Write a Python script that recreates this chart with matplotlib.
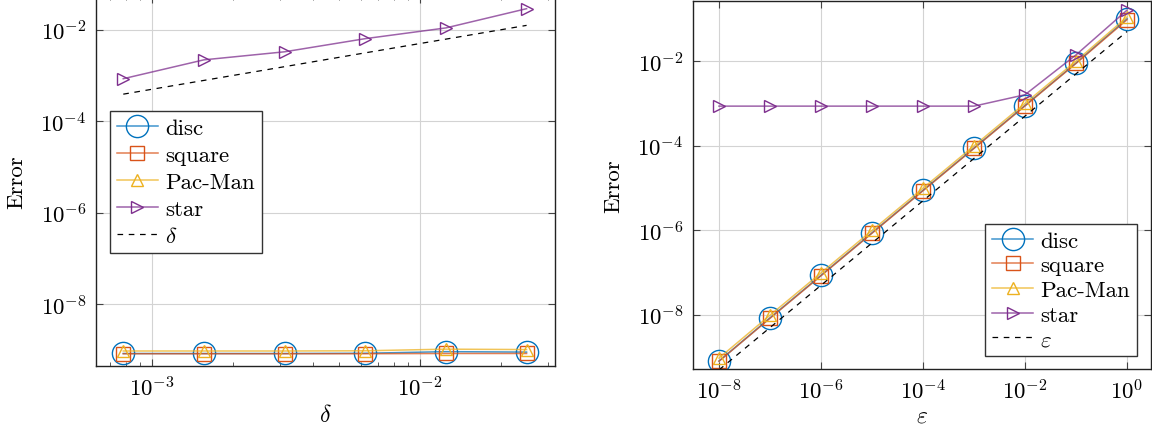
import numpy as np
import matplotlib
matplotlib.use('Agg')
import matplotlib.pyplot as plt
from matplotlib.ticker import FixedLocator, NullLocator, FuncFormatter, LogLocator

plt.rcParams['font.family'] = 'serif'
plt.rcParams['font.serif'] = ['cmr10']
plt.rcParams['mathtext.fontset'] = 'cm'
plt.rcParams['axes.formatter.use_mathtext'] = True

# left panel: error vs delta
delta = [1/1280, 1/640, 1/320, 1/160, 1/80, 1/40]
left_disc = [8.2e-10, 8.2e-10, 8.2e-10, 8.3e-10, 9.0e-10, 8.8e-10]
left_square = [8.1e-10, 8.1e-10, 8.1e-10, 8.1e-10, 8.2e-10, 8.2e-10]
left_pacman = [9.3e-10, 9.3e-10, 9.3e-10, 9.4e-10, 1.02e-9, 1.0e-9]
left_star = [8.5e-4, 2.2e-3, 3.3e-3, 6.4e-3, 1.1e-2, 2.9e-2]
left_ref = [3.9e-4, 7.8e-4, 1.56e-3, 3.13e-3, 6.25e-3, 1.25e-2]

# right panel: error vs epsilon
eps = [1e-8, 1e-7, 1e-6, 1e-5, 1e-4, 1e-3, 1e-2, 1e-1, 1e0]
right_disc = [8.1e-10, 8.5e-9, 8.6e-8, 8.7e-7, 8.8e-6, 8.8e-5, 8.9e-4, 9.0e-3, 1.0e-1]
right_square = [8.0e-10, 8.3e-9, 8.4e-8, 8.5e-7, 8.6e-6, 8.6e-5, 8.7e-4, 8.8e-3, 9.5e-2]
right_pacman = [9.5e-10, 9.8e-9, 9.8e-8, 9.9e-7, 9.9e-6, 9.9e-5, 1.0e-3, 1.0e-2, 1.1e-1]
right_star = [8.6e-4, 8.6e-4, 8.6e-4, 8.6e-4, 8.6e-4, 8.6e-4, 1.6e-3, 1.4e-2, 1.6e-1]
right_ref = [5e-10, 5e-9, 5e-8, 5e-7, 5e-6, 5e-5, 5e-4, 5e-3, 5e-2]

names = ['disc', 'square', 'Pac-Man', 'star']
colors = ['#0072BD', '#D95319', '#EDB120', '#7E2F8E']
markers = ['o', 's', '^', '>']
msizes = [16, 10, 9, 9]

fig = plt.figure(figsize=(11.52, 4.31), dpi=100)
ax1 = fig.add_axes([96/1152, 64/431, 459/1152, 370/431])
ax2 = fig.add_axes([693/1152, 61/431, 458/1152, 368/431])


def draw(ax, x, series, ref):
    handles = []
    for i, y in enumerate(series):
        l, = ax.plot(x, y, '-', color=colors[i], lw=1.1, alpha=0.75)
        m, = ax.plot(x, y, ls='none', marker=markers[i], ms=msizes[i],
                     mfc='none', mec=colors[i], mew=1.0)
        handles.append((l, m))
    r, = ax.plot(x, ref, color='k', lw=0.9, ls=(0, (4.5, 4.5)))
    handles.append(r)
    ax.set_xscale('log')
    ax.set_yscale('log')
    ax.grid(True, which='major', color='#d3d3d3', lw=0.8)
    ax.set_axisbelow(True)
    ax.tick_params(which='both', direction='in', top=True, right=True,
                   labelsize=16.5, color='#444444', pad=7)
    ax.tick_params(which='major', length=5)
    ax.tick_params(which='minor', length=3)
    ax.set_ylabel('Error', fontsize=16.5, labelpad=10)
    fmt = FuncFormatter(lambda v, p: r'$10^{%d}$' % round(np.log10(v)))
    ax.xaxis.set_major_formatter(fmt)
    ax.yaxis.set_major_formatter(fmt)
    ax.yaxis.set_major_locator(FixedLocator([1e-8, 1e-6, 1e-4, 1e-2]))
    ax.yaxis.set_minor_locator(NullLocator())
    for s in ax.spines.values():
        s.set_color('#222222')
        s.set_linewidth(1.0)
    return handles


h1 = draw(ax1, delta, [left_disc, left_square, left_pacman, left_star], left_ref)
ax1.set_xlim(10**-3.209, 10**-1.496)
ax1.set_ylim(10**-9.36, 10**-1.26)
ax1.xaxis.set_major_locator(FixedLocator([1e-3, 1e-2]))
ax1.xaxis.set_minor_locator(LogLocator(base=10, subs=np.arange(2, 10)))
ax1.xaxis.set_minor_formatter(plt.NullFormatter())
ax1.set_xlabel(r'$\delta$', fontsize=17, labelpad=3)

h2 = draw(ax2, eps, [right_disc, right_square, right_pacman, right_star], right_ref)
ax2.set_xlim(10**-8.51, 10**0.47)
ax2.set_ylim(10**-9.28, 10**-0.58)
ax2.xaxis.set_major_locator(FixedLocator([1e-8, 1e-6, 1e-4, 1e-2, 1e0]))
ax2.xaxis.set_minor_locator(NullLocator())
ax2.set_xlabel(r'$\varepsilon$', fontsize=17, labelpad=1)

for ax, h, lab, anchor, loc, sp in [(ax1, h1, names + [r'$\delta$'], (0.0305, 0.689), 'upper left', 0.3),
                                    (ax2, h2, names + [r'$\varepsilon$'], (0.969, 0.035), 'lower right', 0.2)]:
    leg = ax.legend(h, lab, loc=loc, bbox_to_anchor=anchor, fontsize=16.5,
                    fancybox=False, framealpha=1, edgecolor='#333333',
                    handlelength=1.8, handletextpad=0.3, labelspacing=sp,
                    borderpad=0.3, borderaxespad=0)
    leg.get_frame().set_linewidth(1.0)

fig.savefig('out.png', dpi=100)
